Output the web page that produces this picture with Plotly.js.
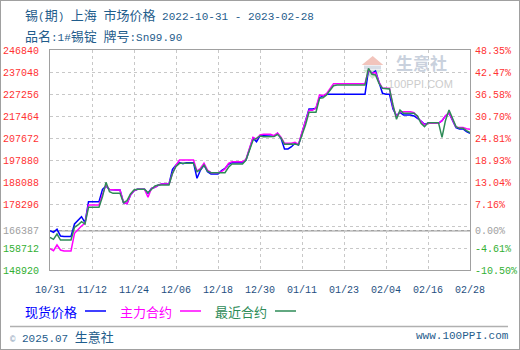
<!DOCTYPE html>
<html><head><meta charset="utf-8">
<script src="https://cdn.plot.ly/plotly-3.0.1.min.js"></script>
<style>
html,body{margin:0;padding:0;background:#fff;}
#wrap{position:relative;width:520px;height:350px;}
#chart{width:520px;height:350px;}
#frame{position:absolute;left:0;top:0;width:520px;height:350px;box-sizing:border-box;border:1px solid #a0a0a0;pointer-events:none;}
</style></head><body>
<div id="wrap"><div id="chart"></div><div id="frame"></div></div>
<script>
// ---- data ----
const startDate = '2022-10-31';
const tickDates = ['2022-10-31','2022-11-12','2022-11-24','2022-12-06','2022-12-18','2022-12-30','2023-01-11','2023-01-23','2023-02-04','2023-02-16','2023-02-28'];
const tickLabels = ['10/31','11/12','11/24','12/06','12/18','12/30','01/11','01/23','02/04','02/16','02/28'];
const seriesNames = ['现货价格','主力合约','最近合约'];
const basePrice = 166387;
const yMin = 148920, yMax = 246840;
const yTickValues = [246840,237048,227256,217464,207672,197880,188088,178296,168504,166387,158712,148920];
const yUnlabeled = [168504];

const spotPrice = [
166387,165700,167040,164050,163800,163800,163800,169400,170870,172640,
170000,179330,179330,179330,179330,184830,186300,184700,184530,184530,
184530,178900,178440,182300,184220,184840,184840,184840,183060,185280,
185730,186750,187190,187190,187190,193740,195660,196700,196250,196700,
196700,196700,189730,193430,195660,192680,191650,191650,191650,193130,
194180,195960,196700,196700,196700,196700,197880,202330,207550,206000,
208640,208710,208710,208710,208430,209750,207550,202780,202780,203810,
205320,204580,209750,214930,220580,220580,220870,225620,226500,227130,
227130,227130,227130,227130,227130,227130,227130,227130,227130,227130,
227130,237940,236460,237490,232750,227570,227130,227130,220580,217610,
219090,217910,217910,217910,217460,216420,215240,213770,214210,214210,
214210,214210,215380,217500,218800,215680,212270,211680,211680,210500,
209800];

const mainContract = [
158400,157520,160050,157820,157370,157370,157370,165250,167030,168510,
169700,177850,177850,177850,177850,182500,186800,184700,184530,184530,
184530,179000,178440,182300,184220,184840,184840,184840,181270,185280,
185730,186750,187190,187190,187190,191950,195660,197880,197880,197880,
197880,197880,192900,194200,196410,193430,192240,192240,192240,192680,
193900,196410,197140,197140,197140,197140,198170,203530,207980,207200,
209010,209310,209310,209310,208700,209900,208000,205320,205320,205320,
205800,204800,210200,215000,220000,220000,221000,226840,226500,227420,
229790,231850,231850,231850,231850,231850,231850,231850,231850,231850,
231850,238000,236500,236800,232500,229790,229790,229790,221500,217200,
219380,219380,219380,219380,219000,216800,215000,213500,214210,214210,
214210,214210,215400,217600,218900,215900,212500,212300,212300,211800,
211600];

const nearContract = [
163470,162570,164940,162270,162270,162270,162270,167920,168960,170420,
169390,176820,176820,176820,176820,181570,187950,183780,183040,183040,
183040,178890,179780,182750,184530,184840,184840,184840,183300,184840,
186300,186750,186750,186750,186750,191950,195000,196400,196400,196400,
196400,196400,192680,193600,195660,192900,192240,192240,192240,191950,
192240,194620,196100,196100,196100,196100,197880,202780,206700,207500,
208560,208280,208280,208280,208300,209300,207700,204870,204870,204870,
205000,204580,209000,213500,219110,219110,219110,225320,225620,226800,
229040,230950,231260,231260,231260,231260,231260,231260,231260,231260,
231260,238690,236030,235720,232010,229790,229500,229500,222360,216000,
220130,218640,218640,218640,218640,217460,214210,212730,214500,214500,
214500,214500,207980,215500,220130,216420,212730,211970,211970,210940,
210050];

// ---- helpers ----
function dayList(start, n){
  const out=[]; const t0=Date.parse(start+'T00:00:00Z');
  for(let i=0;i<n;i++){ out.push(new Date(t0+i*86400000).toISOString().slice(0,10)); }
  return out;
}
const dates = dayList(startDate, spotPrice.length);
const pct = v => (v/basePrice-1)*100;
const RED='#ff3333', GRAY='#a0a0a0', GREEN='#33b033';
const colorFor = v => v>basePrice?RED:(v<basePrice?GREEN:GRAY);
const cjk = (s,size) => s.replace(/([\u2E80-\u9FFF\uFF00-\uFFEF]+)/g, '<span style="font-family:Noto Sans CJK SC;font-size:'+size+'px">$1</span>');
const PX = x => (x-50)/420;
const PY = y => (270-y)/220;

const lineColors = ['#0000ff','#ff00ff','#2e8b57'];
const series = [spotPrice, mainContract, nearContract];
const traces = series.map((s,i)=>({x:dates,y:s,type:'scatter',mode:'lines',name:seriesNames[i],
  line:{color:lineColors[i],width:1.5},hoverinfo:'skip'}));
traces.push({x:[dates[0]],y:[pct(spotPrice[0])],yaxis:'y2',type:'scatter',mode:'markers',marker:{opacity:0},showlegend:false,hoverinfo:'skip'});

const yTickText = yTickValues.map(v => yUnlabeled.includes(v)?'':'<span style="color:'+colorFor(v)+'">'+v+'</span>');
const y2TickVals = yTickValues.map(pct);
const y2TickText = yTickValues.map(v => yUnlabeled.includes(v)?'':'<span style="color:'+colorFor(v)+'">'+pct(v).toFixed(2)+'%</span>');

const TITLE_C = '#1f5d8c';
const annotations = [
  {xref:'paper',yref:'paper',x:PX(23),y:PY(15),xanchor:'left',yanchor:'middle',showarrow:false,
   text:cjk('锡(期) 上海 市场价格 2022-10-31 - 2023-02-28',13),font:{family:'Liberation Mono',size:11,color:TITLE_C}},
  {xref:'paper',yref:'paper',x:PX(23),y:PY(35),xanchor:'left',yanchor:'middle',showarrow:false,
   text:cjk('品名:1#锡锭 牌号:Sn99.90',13),font:{family:'Liberation Mono',size:11,color:TITLE_C}},
  {xref:'paper',yref:'paper',x:PX(8),y:PY(336),xanchor:'left',yanchor:'middle',showarrow:false,
   text:'<span style="color:#8aa0b8;font-size:9px">©</span> 2025.07 '+cjk('生意社',13),font:{family:'Liberation Mono',size:11,color:TITLE_C}},
  {xref:'paper',yref:'paper',x:PX(511),y:PY(336),xanchor:'right',yanchor:'middle',showarrow:false,
   text:'www.100PPI.com',font:{family:'Liberation Mono',size:11,color:TITLE_C}},
  {xref:'paper',yref:'paper',x:PX(421),y:PY(62),xanchor:'center',yanchor:'middle',showarrow:false,borderpad:0,
   text:'<b>生意社</b>',font:{family:'Noto Sans CJK SC',size:17,color:'#c9d1dd'}},
  {xref:'paper',yref:'paper',x:PX(420),y:PY(84),xanchor:'center',yanchor:'middle',showarrow:false,borderpad:0,
   text:'100PPI.COM',font:{family:'Liberation Sans',size:11,color:'#cccccc'}}
];
const legendTextX = [23,118,213];
const legendLineX = [[85,106],[180,201],[275,296]];
seriesNames.forEach((n,i)=>{
  annotations.push({xref:'paper',yref:'paper',x:PX(legendTextX[i]),y:PY(311),xanchor:'left',yanchor:'middle',showarrow:false,
    text:n,font:{family:'Noto Sans CJK SC',size:13,color:lineColors[i]}});
});

const shapes = [
  {type:'line',xref:'paper',yref:'y',x0:0,x1:1,y0:basePrice,y1:basePrice,line:{color:GRAY,width:1.5},layer:'below'},
  {type:'line',xref:'paper',yref:'paper',x0:PX(10),x1:PX(508),y0:PY(326.5),y1:PY(326.5),line:{color:'#b0b0b0',width:1.5}},
  {type:'path',xref:'paper',yref:'paper',path:`M ${PX(361.7)},${PY(65)} L ${PX(372.7)},${PY(56)} L ${PX(383.3)},${PY(65)} Z`,fillcolor:'#f2c4bc',line:{width:0},layer:'below'},
  {type:'rect',xref:'paper',yref:'paper',x0:PX(364),x1:PX(381),y0:PY(69.5),y1:PY(65.5),fillcolor:'#d8dde6',line:{width:0},layer:'below'},
  {type:'path',xref:'paper',yref:'paper',path:`M ${PX(363)},${PY(70)} L ${PX(382)},${PY(70)} L ${PX(372.5)},${PY(79)} Z`,fillcolor:'#cfe8cf',line:{width:0},layer:'below'}
];
legendLineX.forEach((xx,i)=>{
  shapes.push({type:'line',xref:'paper',yref:'paper',x0:PX(xx[0]),x1:PX(xx[1]),y0:PY(311),y1:PY(311),line:{color:lineColors[i],width:1.5}});
});

const layout = {
  width:520,height:350,margin:{l:50,r:50,t:50,b:80,pad:0},
  paper_bgcolor:'#ffffff',plot_bgcolor:'#ffffff',showlegend:false,
  font:{family:'Liberation Mono, Noto Sans CJK SC',size:10},
  xaxis:{type:'date',range:[dates[0],dates[dates.length-1]],tickmode:'array',tickvals:tickDates,ticktext:tickLabels,
    showgrid:true,gridcolor:'#c8c8c8',griddash:'3px,3px',gridwidth:1,showline:true,linecolor:'#a0a0a0',linewidth:1,mirror:true,
    ticks:'',tickfont:{family:'Liberation Mono',size:10,color:'#1f4f7f'},ticklabelstandoff:10,zeroline:false,fixedrange:true},
  yaxis:{range:[yMin,yMax],tickmode:'array',tickvals:yTickValues,ticktext:yTickText,
    showgrid:true,gridcolor:'#c8c8c8',griddash:'3px,3px',gridwidth:1,showline:true,linecolor:'#a0a0a0',linewidth:1,mirror:true,
    ticks:'',tickfont:{family:'Liberation Mono',size:10,color:RED},ticklabelstandoff:8,zeroline:false,fixedrange:true},
  yaxis2:{overlaying:'y',side:'right',range:[pct(yMin),pct(yMax)],tickmode:'array',tickvals:y2TickVals,ticktext:y2TickText,
    showgrid:false,zeroline:false,showline:false,ticks:'',tickfont:{family:'Liberation Mono',size:10,color:RED},ticklabelstandoff:4,fixedrange:true},
  shapes:shapes,annotations:annotations
};
Plotly.newPlot('chart',traces,layout,{staticPlot:true,displayModeBar:false});
</script>
</body></html>
